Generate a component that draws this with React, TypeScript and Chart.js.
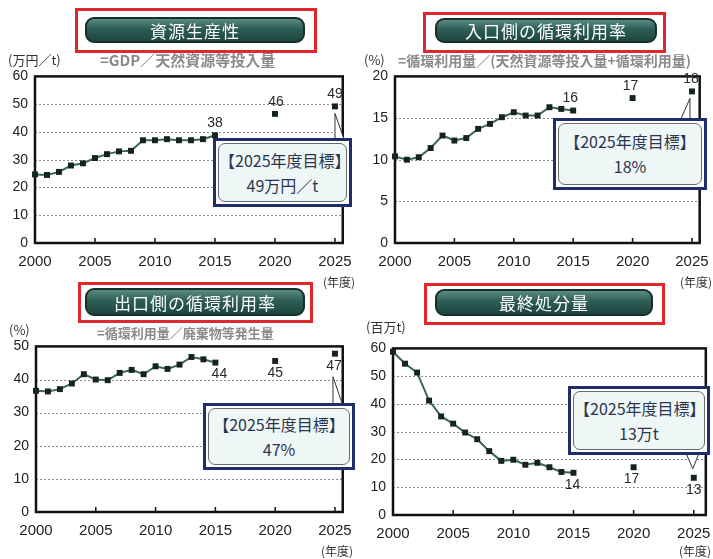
import React, { useEffect, useRef } from 'react';
import { Chart, registerables } from 'chart.js';
Chart.register(...registerables);

// ---------- data ----------
const YEARS = [2000, 2001, 2002, 2003, 2004, 2005, 2006, 2007, 2008, 2009, 2010, 2011, 2012, 2013, 2014, 2015];
const TARGET_YEARS = [2020, 2025];
const X_TICKS = [2000, 2005, 2010, 2015, 2020, 2025];
const LABEL_YEARS = [2015, 2020, 2025];

// 資源生産性 (万円/t)
const PRODUCTIVITY = [24.7, 24.5, 25.6, 27.9, 28.7, 30.6, 32.0, 33.0, 33.2, 37.0, 37.0, 37.4, 37.0, 37.0, 37.4, 38.8];
const PRODUCTIVITY_TARGETS = [46.5, 49.2];
const PRODUCTIVITY_Y_TICKS = [0, 10, 20, 30, 40, 50, 60];
const PRODUCTIVITY_LABELS = ['38', '46', '49'];

// 入口側の循環利用率 (%)
const INLET_RATE = [10.4, 10.0, 10.3, 11.4, 12.9, 12.3, 12.6, 13.7, 14.3, 15.1, 15.7, 15.3, 15.3, 16.3, 16.1, 15.9];
const INLET_TARGETS = [17.4, 18.2];
const INLET_Y_TICKS = [0, 5, 10, 15, 20];
const INLET_LABELS = ['16', '17', '18'];

// 出口側の循環利用率 (%)
const OUTLET_RATE = [36.6, 36.4, 37.1, 38.8, 41.6, 40.0, 39.8, 42.0, 42.9, 41.6, 44.0, 43.2, 44.5, 46.8, 46.1, 45.1];
const OUTLET_TARGETS = [45.6, 47.8];
const OUTLET_Y_TICKS = [0, 10, 20, 30, 40, 50];
const OUTLET_LABELS = ['44', '45', '47'];

// 最終処分量 (百万t)
const FINAL_DISPOSAL = [58.8, 54.5, 51.3, 41.2, 35.5, 32.9, 29.7, 27.3, 23.0, 19.5, 19.9, 18.1, 18.8, 17.2, 15.5, 15.2];
const FINAL_TARGETS = [17.2, 13.4];
const FINAL_Y_TICKS = [0, 10, 20, 30, 40, 50, 60];
const FINAL_LABELS = ['14', '17', '13'];

// ---------- layout ----------
type Area = { l: number; t: number; r: number; b: number };
type PanelCfg = {
  series: number[];
  targets: number[];
  yTicks: number[];
  labels: string[];
  labelDy: number;
  labelDx: number[];
  area: Area;
  xMax: number;
  callout: { tipDy: number; tipDx: number; bases: number[][] };
  title: string;
  red: Area;
  pill: Area;
  unit: { text: string; x: number; y: number };
  sub?: { text: string; x: number; y: number; size: number };
  target: { text: string; box: Area };
  yearLabel: { x: number; y: number };
};

const PANELS: PanelCfg[] = [
  {
    series: PRODUCTIVITY, targets: PRODUCTIVITY_TARGETS, yTicks: PRODUCTIVITY_Y_TICKS, labels: PRODUCTIVITY_LABELS,
    labelDy: -12, labelDx: [0, 1, 0],
    area: { l: 35, t: 75, r: 348, b: 243 }, xMax: 2025.65,
    callout: { tipDy: 7, tipDx: 0, bases: [[335, 142], [345, 142]] },
    title: '資源生産性', red: { l: 75, t: 8, r: 317, b: 53 }, pill: { l: 85, t: 17, r: 305, b: 43 },
    unit: { text: '(万円／t)', x: 8, y: 60 },
    sub: { text: '=GDP／天然資源等投入量', x: 100, y: 60, size: 15 },
    target: { text: '49万円／t', box: { l: 213, t: 138, r: 352, b: 207 } },
    yearLabel: { x: 323, y: 282 },
  },
  {
    series: INLET_RATE, targets: INLET_TARGETS, yTicks: INLET_Y_TICKS, labels: INLET_LABELS,
    labelDy: -12, labelDx: [-3, -2, -1],
    area: { l: 395, t: 75, r: 705, b: 243 }, xMax: 2025.65,
    callout: { tipDy: 7, tipDx: -2, bases: [[680, 121], [690, 121]] },
    title: '入口側の循環利用率', red: { l: 423, t: 12, r: 666, b: 53 }, pill: { l: 435, t: 18, r: 657, b: 43 },
    unit: { text: '(%)', x: 364, y: 60 },
    sub: { text: '=循環利用量／(天然資源等投入量+循環利用量)', x: 398, y: 60, size: 14 },
    target: { text: '18%', box: { l: 553, t: 118, r: 707, b: 190 } },
    yearLabel: { x: 680, y: 282 },
  },
  {
    series: OUTLET_RATE, targets: OUTLET_TARGETS, yTicks: OUTLET_Y_TICKS, labels: OUTLET_LABELS,
    labelDy: 12, labelDx: [4, 0, -1],
    area: { l: 36, t: 345, r: 348, b: 512 }, xMax: 2025.65,
    callout: { tipDy: 23, tipDx: -2, bases: [[333, 406], [343, 406]] },
    title: '出口側の循環利用率', red: { l: 78, t: 282, r: 313, b: 323 }, pill: { l: 85, t: 288, r: 305, b: 316 },
    unit: { text: '(%)', x: 9, y: 330 },
    sub: { text: '=循環利用量／廃棄物等発生量', x: 97, y: 333, size: 13 },
    target: { text: '47%', box: { l: 203, t: 403, r: 355, b: 470 } },
    yearLabel: { x: 321, y: 551 },
  },
  {
    series: FINAL_DISPOSAL, targets: FINAL_TARGETS, yTicks: FINAL_Y_TICKS, labels: FINAL_LABELS,
    labelDy: 12, labelDx: [-1, -2, 0],
    area: { l: 393, t: 347, r: 707, b: 515 }, xMax: 2026.0,
    callout: { tipDy: -9, tipDx: -1, bases: [[686, 453], [699, 453]] },
    title: '最終処分量', red: { l: 424, t: 283, r: 665, b: 325 }, pill: { l: 435, t: 289, r: 653, b: 316 },
    unit: { text: '(百万t)', x: 366, y: 327 },
    target: { text: '13万t', box: { l: 568, t: 386, r: 710, b: 455 } },
    yearLabel: { x: 679, y: 551 },
  },
];

const TICK_FONT = "'Liberation Sans', Arial, sans-serif";
const JP_FONT = "'Noto Sans CJK JP', 'Noto Sans', sans-serif";
const PAD_L = 35, PAD_T = 14, PAD_R = 14, PAD_B = 32;

function ChartPanel({ cfg }: { cfg: PanelCfg }) {
  const ref = useRef<HTMLCanvasElement | null>(null);
  const cl = cfg.area.l - PAD_L;
  const ct = cfg.area.t - PAD_T;
  const cw = cfg.area.r + PAD_R - cl;
  const ch = cfg.area.b + PAD_B - ct;

  useEffect(() => {
    const canvas = ref.current;
    if (!canvas) return;
    const valueAt = (year: number) => {
      const i = YEARS.indexOf(year);
      if (i >= 0) return cfg.series[i];
      return cfg.targets[TARGET_YEARS.indexOf(year)];
    };
    const deco = {
      id: 'deco',
      beforeDatasetsDraw(chart: any) {
        const { ctx, chartArea: a, scales } = chart;
        const y = scales.y;
        const x = scales.x;
        ctx.save();
        ctx.strokeStyle = '#8c8c8c';
        ctx.lineWidth = 1;
        ctx.setLineDash([2, 2]);
        y.ticks.forEach((t: any) => {
          if (t.value <= y.min || t.value >= y.max) return;
          const py = Math.round(y.getPixelForValue(t.value)) + 0.5;
          ctx.beginPath();
          ctx.moveTo(a.left, py);
          ctx.lineTo(a.right, py);
          ctx.stroke();
        });
        ctx.setLineDash([]);
        ctx.strokeStyle = '#111';
        ctx.lineWidth = 2.5;
        ctx.strokeRect(a.left, a.top, a.right - a.left, a.bottom - a.top);
        ctx.lineWidth = 1.5;
        x.ticks.forEach((t: any) => {
          if (t.value <= x.min) return;
          const px = x.getPixelForValue(t.value);
          ctx.beginPath();
          ctx.moveTo(px, a.bottom);
          ctx.lineTo(px, a.bottom - 5);
          ctx.stroke();
        });
        ctx.restore();
      },
      afterDatasetsDraw(chart: any) {
        const { ctx, scales } = chart;
        const x = scales.x, y = scales.y;
        ctx.save();
        ctx.fillStyle = '#2a2a2a';
        ctx.font = `14px ${TICK_FONT}`;
        ctx.textAlign = 'center';
        ctx.textBaseline = 'middle';
        LABEL_YEARS.forEach((yr, i) => {
          const px = x.getPixelForValue(yr) + cfg.labelDx[i];
          const py = y.getPixelForValue(valueAt(yr)) + cfg.labelDy;
          ctx.fillText(cfg.labels[i], px, py);
        });
        // callout wedge toward the 2025 target point
        const lastYear = TARGET_YEARS[TARGET_YEARS.length - 1];
        const tx = x.getPixelForValue(lastYear) + cfg.callout.tipDx;
        const ty = y.getPixelForValue(valueAt(lastYear)) + cfg.callout.tipDy;
        ctx.strokeStyle = '#333';
        ctx.lineWidth = 1;
        ctx.fillStyle = '#ffffff';
        ctx.beginPath();
        ctx.moveTo(cfg.callout.bases[0][0] - cl, cfg.callout.bases[0][1] - ct);
        ctx.lineTo(tx, ty);
        ctx.lineTo(cfg.callout.bases[1][0] - cl, cfg.callout.bases[1][1] - ct);
        ctx.fill();
        ctx.stroke();
        ctx.restore();
      },
    };

    const pointStyle = {
      pointStyle: 'rect',
      pointRadius: 4.2,
      pointBackgroundColor: '#16241f',
      pointBorderColor: '#16241f',
      pointBorderWidth: 0,
      clip: false as any,
    };

    const chart = new Chart(canvas, {
      type: 'line',
      data: {
        datasets: [
          {
            data: YEARS.map((yr, i) => ({ x: yr, y: cfg.series[i] })),
            borderColor: '#3a665c',
            borderWidth: 2,
            tension: 0,
            ...pointStyle,
          } as any,
          {
            data: TARGET_YEARS.map((yr, i) => ({ x: yr, y: cfg.targets[i] })),
            showLine: false,
            ...pointStyle,
          } as any,
        ],
      },
      options: {
        animation: false,
        responsive: false,
        devicePixelRatio: 1,
        layout: { padding: { top: PAD_T, right: PAD_R, bottom: 0, left: 0 } },
        plugins: { legend: { display: false }, tooltip: { enabled: false } },
        scales: {
          x: {
            type: 'linear',
            min: X_TICKS[0],
            max: cfg.xMax,
            grid: { display: false, drawTicks: false },
            border: { display: false },
            afterBuildTicks: (s: any) => { s.ticks = X_TICKS.map((v) => ({ value: v })); },
            afterFit: (s: any) => { s.height = PAD_B; },
            ticks: {
              padding: 10,
              color: '#222',
              font: { family: TICK_FONT, size: 15 },
              maxRotation: 0,
              autoSkip: false,
              callback: (v: any) => String(v),
            },
          },
          y: {
            type: 'linear',
            min: cfg.yTicks[0],
            max: cfg.yTicks[cfg.yTicks.length - 1],
            grid: { display: false, drawTicks: false },
            border: { display: false },
            afterBuildTicks: (s: any) => { s.ticks = cfg.yTicks.map((v) => ({ value: v })); },
            afterFit: (s: any) => { s.width = PAD_L; },
            ticks: {
              padding: 7,
              color: '#222',
              font: { family: TICK_FONT, size: 14 },
              callback: (v: any) => String(v),
            },
          },
        },
      },
      plugins: [deco],
    });
    return () => chart.destroy();
  }, [cfg]);

  return (
    <canvas
      ref={ref}
      width={cw}
      height={ch}
      style={{ position: 'absolute', left: cl, top: ct, width: cw, height: ch }}
    />
  );
}

function abs(a: Area): React.CSSProperties {
  return { position: 'absolute', left: a.l, top: a.t, width: a.r - a.l, height: a.b - a.t, boxSizing: 'border-box' };
}

function Overlay({ cfg }: { cfg: PanelCfg }) {
  const tb = cfg.target.box;
  return (
    <>
      <div style={{ ...abs(cfg.red), border: '3px solid #e3262b' }} />
      <div
        style={{
          ...abs(cfg.pill),
          borderRadius: 9,
          border: '2px solid #14302b',
          background: 'linear-gradient(to bottom, #5a8a80 0%, #2d5d55 45%, #1f4641 100%)',
          color: '#fff',
          fontFamily: JP_FONT,
          fontSize: 17,
          letterSpacing: 1,
          display: 'flex',
          alignItems: 'center',
          justifyContent: 'center',
          lineHeight: 1,
        }}
      >
        {cfg.title}
      </div>
      <div
        style={{
          position: 'absolute', left: cfg.unit.x, top: cfg.unit.y - 9, height: 18, lineHeight: '18px',
          fontFamily: JP_FONT, fontSize: 13, color: '#333', whiteSpace: 'nowrap',
        }}
      >
        {cfg.unit.text}
      </div>
      {cfg.sub && (
        <div
          style={{
            position: 'absolute', left: cfg.sub.x, top: cfg.sub.y - 10, height: 20, lineHeight: '20px',
            fontFamily: JP_FONT, fontSize: cfg.sub.size, color: '#8a8a8a', whiteSpace: 'nowrap', fontWeight: 700,
          }}
        >
          {cfg.sub.text}
        </div>
      )}
      <div
        style={{
          position: 'absolute', left: cfg.yearLabel.x, top: cfg.yearLabel.y - 9, height: 18, lineHeight: '18px',
          fontFamily: JP_FONT, fontSize: 12, color: '#333', whiteSpace: 'nowrap',
        }}
      >
        (年度)
      </div>
      <div style={{ ...abs(tb), border: '3px solid #1e2d6b', background: '#fff' }}>
        <div
          style={{
            position: 'absolute', left: 2, top: 2, right: 2, bottom: 2,
            border: '1.5px solid #6b6b6b', borderRadius: 7, background: '#eef7f5',
            display: 'flex', flexDirection: 'column', alignItems: 'center', justifyContent: 'center',
            fontFamily: JP_FONT, fontSize: 16, color: '#2b3550', lineHeight: '25px',
          }}
        >
          <div>【2025年度目標】</div>
          <div>{cfg.target.text}</div>
        </div>
      </div>
    </>
  );
}

export default function App() {
  return (
    <div style={{ position: 'absolute', left: 0, top: 0, width: 713, height: 559, overflow: 'hidden', background: '#fff' }}>
      {PANELS.map((p, i) => (
        <ChartPanel key={'c' + i} cfg={p} />
      ))}
      {PANELS.map((p, i) => (
        <Overlay key={'o' + i} cfg={p} />
      ))}
    </div>
  );
}
